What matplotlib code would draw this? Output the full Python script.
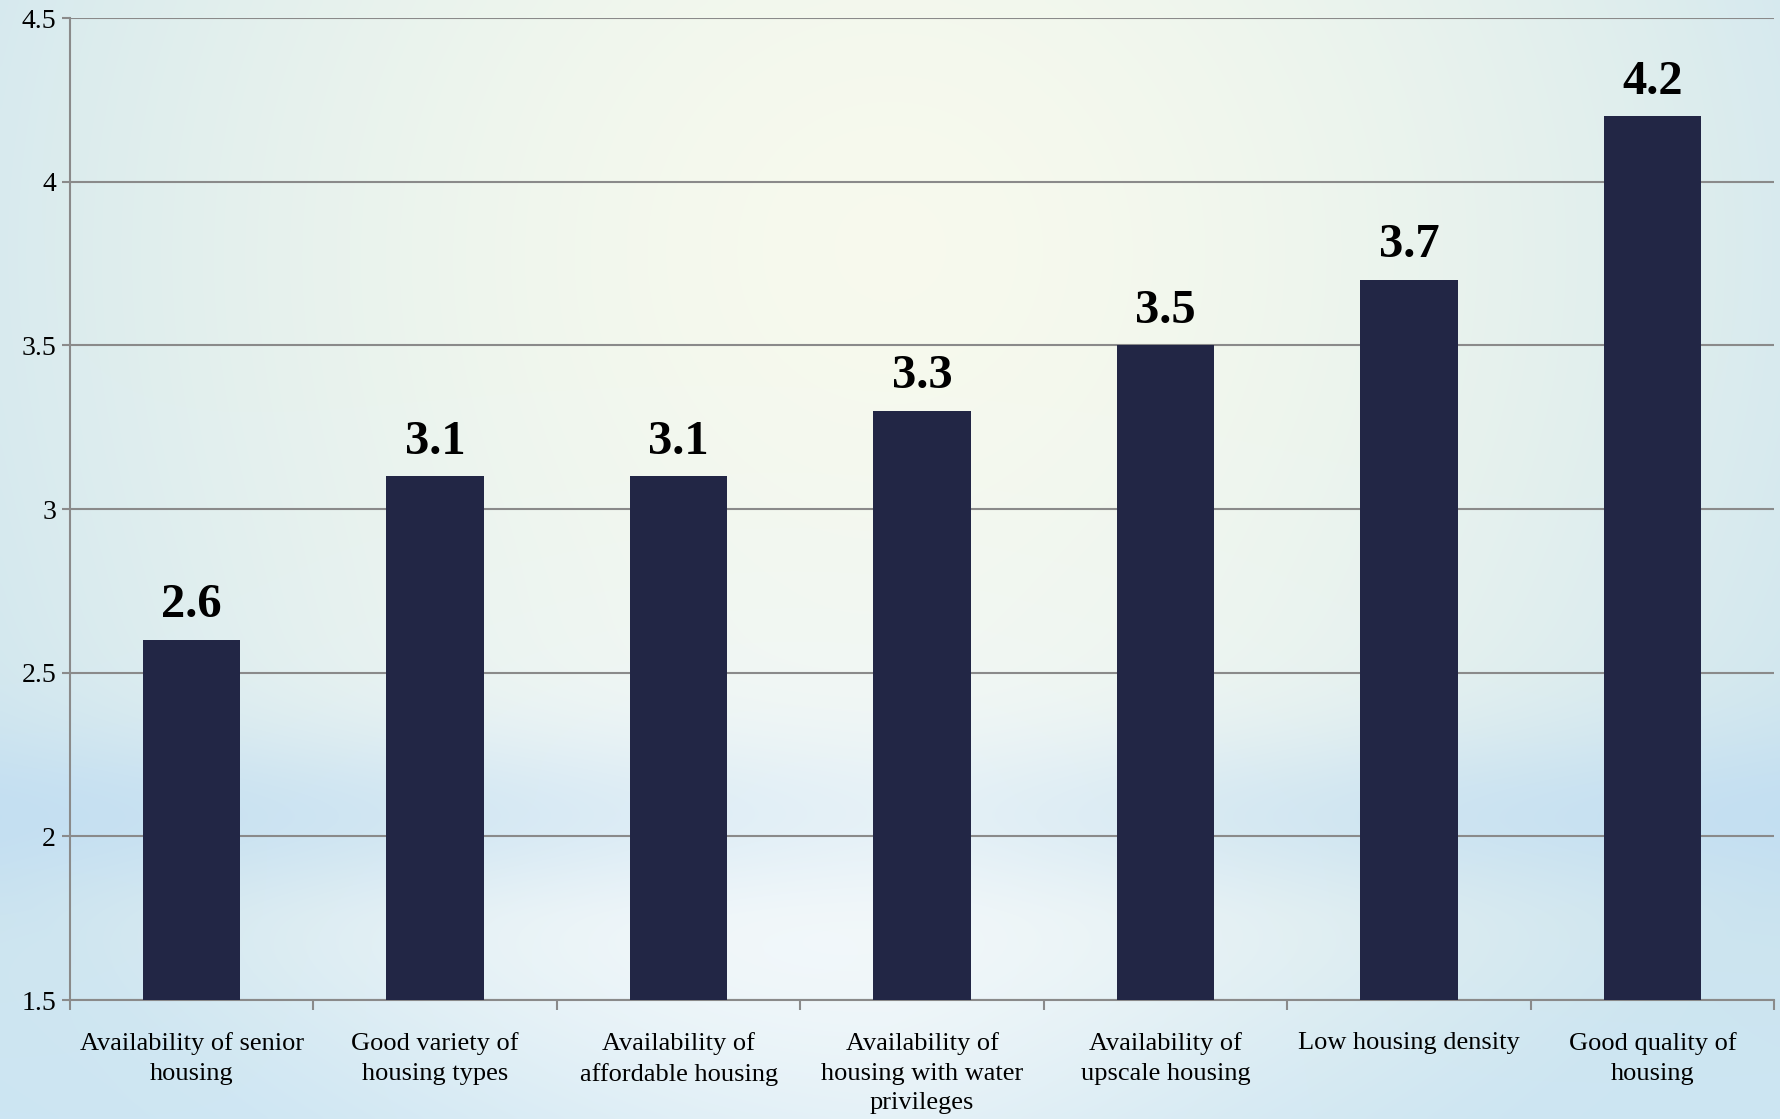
import matplotlib
matplotlib.use("Agg")
import matplotlib.pyplot as plt
import numpy as np

# data
categories = [
    "Availability of senior\nhousing",
    "Good variety of\nhousing types",
    "Availability of\naffordable housing",
    "Availability of\nhousing with water\nprivileges",
    "Availability of\nupscale housing",
    "Low housing density",
    "Good quality of\nhousing",
]
scores = [2.6, 3.1, 3.1, 3.3, 3.5, 3.7, 4.2]
y_ticks = [1.5, 2, 2.5, 3, 3.5, 4, 4.5]
y_tick_labels = ["1.5", "2", "2.5", "3", "3.5", "4", "4.5"]

BAR_COLOR = "#222645"
GRID_COLOR = "#8a8a8a"


def make_background(h, w):
    """Soft slide-style background: pale glow top centre, blue edges and a blue band low down."""
    yy, xx = np.mgrid[0:1:h * 1j, 0:1:w * 1j]
    glow = np.array([0.97, 0.98, 0.93])
    edge = np.array([0.80, 0.895, 0.935])
    r = np.sqrt(((xx - 0.5) / 0.62) ** 2 + ((yy - 0.22) / 0.95) ** 2)
    t = np.clip(r, 0, 1)[..., None] ** 1.6
    img = glow * (1 - t) + edge * t

    # whiter lower centre
    white = np.array([0.975, 0.985, 0.995])
    wmask = np.exp(-((xx - 0.45) / 0.28) ** 2 - ((yy - 0.85) / 0.3) ** 2)[..., None] * 0.8
    img = img * (1 - wmask) + white * wmask

    # blue horizontal band
    band_col = np.array([0.76, 0.87, 0.95])
    band = np.exp(-((yy - 0.73) / 0.075) ** 2) * (0.3 + 0.7 * np.abs(xx - 0.5) * 2)
    band = band[..., None] * 0.85
    img = img * (1 - band) + band_col * band

    # light blue bottom edge
    bot_col = np.array([0.80, 0.90, 0.96])
    bot = (np.clip((yy - 0.82) / 0.18, 0, 1) * (0.3 + 0.7 * np.abs(xx - 0.5) * 2))[..., None] * 0.7
    img = img * (1 - bot) + bot_col * bot
    return np.clip(img, 0, 1)


def main():
    fig = plt.figure(figsize=(17.81, 11.19), dpi=100)

    bg = fig.add_axes([0, 0, 1, 1], zorder=-1)
    bg.imshow(make_background(300, 480), aspect="auto", interpolation="bicubic")
    bg.axis("off")

    ax = fig.add_axes([0.0393, 0.1063, 0.9568, 0.8776])
    ax.set_facecolor("none")

    x = np.arange(len(categories))
    bars = ax.bar(x, scores, width=0.4, color=BAR_COLOR, zorder=3)

    ax.set_ylim(1.5, 4.5)
    ax.set_xlim(-0.5, len(categories) - 0.5)
    ax.set_yticks(y_ticks)
    ax.set_yticklabels(y_tick_labels, family="Liberation Serif", fontsize=20)
    ax.yaxis.grid(True, color=GRID_COLOR, linewidth=1.5, zorder=1)
    ax.set_axisbelow(True)

    ax.set_xticks(x)
    ax.set_xticklabels(categories, family="Liberation Serif", fontsize=19,
                       linespacing=1.45, va="top")
    ax.tick_params(axis="x", which="major", length=0, pad=23)
    ax.set_xticks(np.arange(-0.5, len(categories)), minor=True)
    ax.tick_params(axis="x", which="minor", length=7, width=1.5, color=GRID_COLOR)
    ax.tick_params(axis="y", length=6, width=1.5, color=GRID_COLOR, pad=4)

    for side in ["top", "right"]:
        ax.spines[side].set_visible(False)
    for side in ["left", "bottom"]:
        ax.spines[side].set_color(GRID_COLOR)
        ax.spines[side].set_linewidth(1.5)

    for b, v in zip(bars, scores):
        ax.annotate(f"{v}", (b.get_x() + b.get_width() / 2, v),
                    xytext=(0, 9), textcoords="offset points",
                    ha="center", va="bottom", family="Liberation Serif",
                    fontsize=35, fontweight="bold", color="black")

    fig.savefig("out.png", dpi=100)


if __name__ == "__main__":
    main()
